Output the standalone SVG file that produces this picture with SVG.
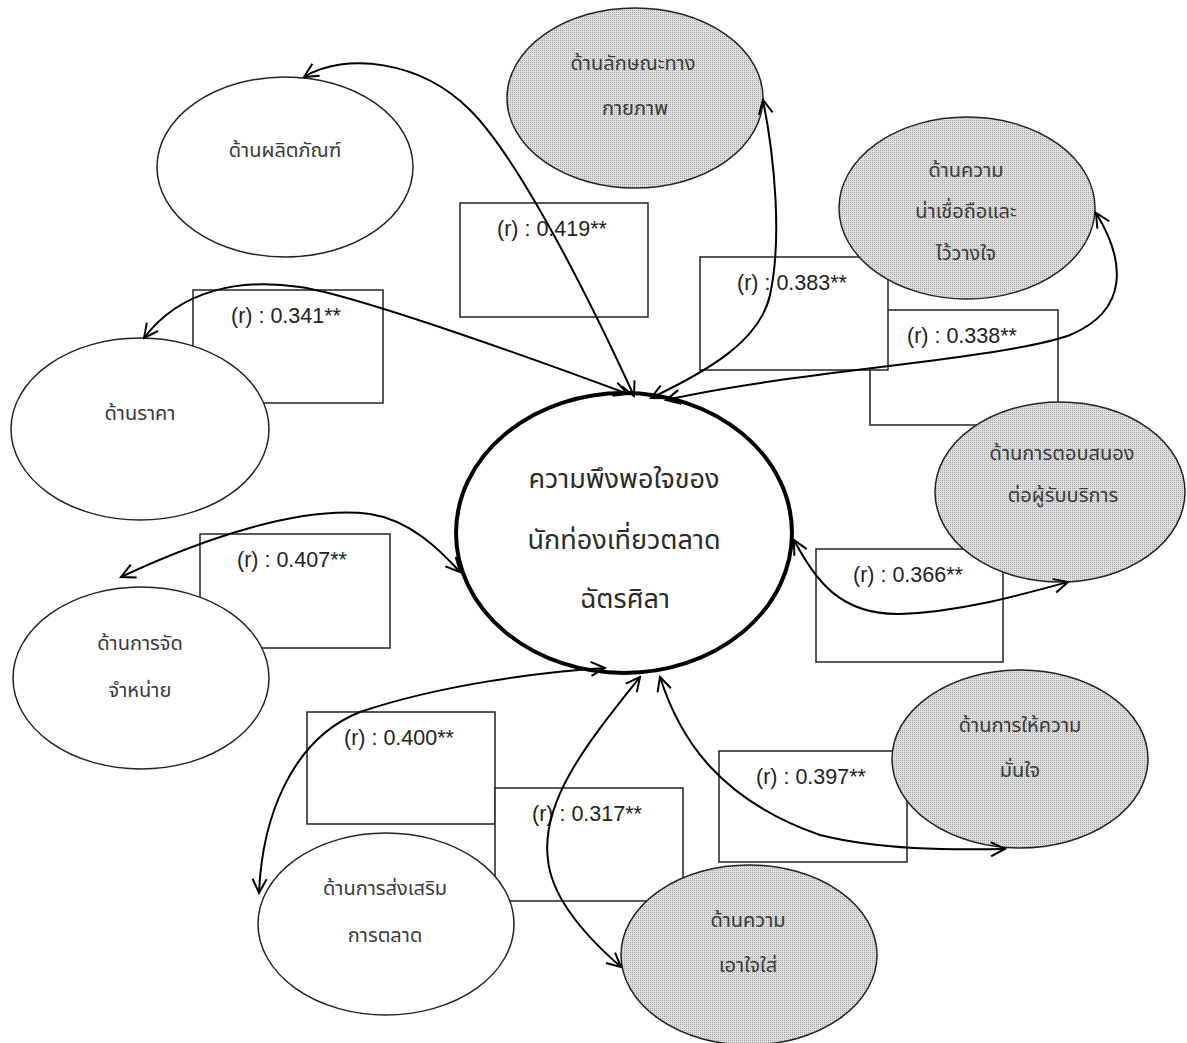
<svg xmlns="http://www.w3.org/2000/svg" width="1187" height="1043" viewBox="0 0 1187 1043">
<defs>
<pattern id="dots" width="2" height="2" patternUnits="userSpaceOnUse">
<rect width="2" height="2" fill="#dedede"/><rect width="1" height="1" fill="#a8a8a8"/>
</pattern>
<marker id="ah" viewBox="-2 -9 18 18" refX="14" refY="0" markerWidth="18" markerHeight="18" markerUnits="userSpaceOnUse" orient="auto-start-reverse">
<path d="M0,-7 L14,0 L0,7" fill="none" stroke="#000" stroke-width="2"/>
</marker>
<style>
.box{fill:#fff;stroke:#222;stroke-width:1.5}
.n{fill:#fff;stroke:#222;stroke-width:1.5}
.g{fill:url(#dots);stroke:#222;stroke-width:1.5}
.c{fill:#fff;stroke:#000;stroke-width:4}
.bt{font-family:"Liberation Sans",Arial,sans-serif;font-size:21.5px;fill:#222}
.t{font-family:"Noto Sans Thai","Noto Sans",sans-serif;font-size:20px;fill:#3a3a3a;text-anchor:middle}
.ct{font-family:"Noto Sans Thai","Noto Sans",sans-serif;font-size:27px;fill:#2a2a2a;text-anchor:middle}
.e{fill:none;stroke:#000;stroke-width:2;marker-start:url(#ah);marker-end:url(#ah)}
</style>
</defs>
<rect width="1187" height="1043" fill="#fff"/>
<g id="boxes">
<g id="box-0419"><rect class="box" x="460" y="203" width="188" height="114"/><text class="bt" x="497" y="236">(r) : 0.419**</text></g>
<g id="box-0341"><rect class="box" x="193" y="290" width="190" height="113"/><text class="bt" x="231" y="323">(r) : 0.341**</text></g>
<g id="box-0407"><rect class="box" x="200" y="534" width="190" height="114"/><text class="bt" x="237" y="567">(r) : 0.407**</text></g>
<g id="box-0400"><rect class="box" x="307" y="712" width="188" height="112"/><text class="bt" x="344" y="745">(r) : 0.400**</text></g>
<g id="box-0317"><rect class="box" x="495" y="788" width="188" height="113"/><text class="bt" x="532" y="821">(r) : 0.317**</text></g>
<g id="box-0397"><rect class="box" x="719" y="751" width="188" height="111"/><text class="bt" x="756" y="784">(r) : 0.397**</text></g>
<g id="box-0366"><rect class="box" x="816" y="549" width="187" height="113"/><text class="bt" x="853" y="582">(r) : 0.366**</text></g>
<g id="box-0338"><rect class="box" x="870" y="310" width="188" height="115"/><text class="bt" x="907" y="343">(r) : 0.338**</text></g>
<g id="box-0383"><rect class="box" x="700" y="257" width="188" height="113"/><text class="bt" x="737" y="290">(r) : 0.383**</text></g>
</g>
<g id="product"><ellipse class="n" cx="285" cy="167" rx="128" ry="90"/><text class="t" x="285" y="157">ด้านผลิตภัณฑ์</text></g>
<g id="physical"><ellipse class="g" cx="635" cy="98" rx="128" ry="90"/><text class="t" x="633" y="70">ด้านลักษณะทาง</text><text class="t" x="635" y="115">กายภาพ</text></g>
<g id="reliability"><ellipse class="g" cx="967" cy="208" rx="128" ry="91"/><text class="t" x="966" y="177">ด้านความ</text><text class="t" x="966" y="218">น่าเชื่อถือและ</text><text class="t" x="966" y="260">ไว้วางใจ</text></g>
<g id="price"><ellipse class="n" cx="140" cy="429" rx="129" ry="91"/><text class="t" x="140" y="420">ด้านราคา</text></g>
<g id="responsiveness"><ellipse class="g" cx="1060" cy="492" rx="125" ry="90"/><text class="t" x="1062" y="460">ด้านการตอบสนอง</text><text class="t" x="1063" y="502">ต่อผู้รับบริการ</text></g>
<g id="distribution"><ellipse class="n" cx="141" cy="678" rx="128" ry="91"/><text class="t" x="140" y="650">ด้านการจัด</text><text class="t" x="140" y="697">จำหน่าย</text></g>
<g id="assurance"><ellipse class="g" cx="1020" cy="759" rx="128" ry="89"/><text class="t" x="1020" y="732">ด้านการให้ความ</text><text class="t" x="1020" y="777">มั่นใจ</text></g>
<g id="promotion"><ellipse class="n" cx="386" cy="924" rx="128" ry="91"/><text class="t" x="385" y="895">ด้านการส่งเสริม</text><text class="t" x="385" y="942">การตลาด</text></g>
<g id="empathy"><ellipse class="g" cx="749" cy="955" rx="128" ry="90"/><text class="t" x="748" y="927">ด้านความ</text><text class="t" x="748" y="972">เอาใจใส่</text></g>
<g id="satisfaction"><ellipse class="c" cx="624" cy="533" rx="168" ry="140"/><text class="ct" x="624" y="488">ความพึงพอใจของ</text><text class="ct" x="624" y="549">นักท่องเที่ยวตลาด</text><text class="ct" x="625" y="608">ฉัตรศิลา</text></g>
<g id="connectors">
<path class="e" d="M304,77 C345,52 420,60 470,110 C520,160 590,300 634,396"/>
<path class="e" d="M144,338 C180,290 240,278 300,287 C360,296 550,365 628,394"/>
<path class="e" d="M121,577 C200,540 300,505 370,514 C410,520 440,550 460,572"/>
<path class="e" d="M259,893 C262,820 290,740 360,712 C440,685 540,672 605,668"/>
<path class="e" d="M640,677 C590,740 540,800 548,860 C552,900 590,940 621,967"/>
<path class="e" d="M660,677 C680,740 720,800 820,835 C880,850 950,850 1005,849"/>
<path class="e" d="M794,540 C815,580 840,615 900,614 C960,612 1020,595 1068,582"/>
<path class="e" d="M1096,213 C1125,260 1130,310 1070,335 C1000,360 800,370 666,400"/>
<path class="e" d="M763,100 C775,160 782,240 770,295 C760,340 710,370 651,398"/>
</g>
</svg>
